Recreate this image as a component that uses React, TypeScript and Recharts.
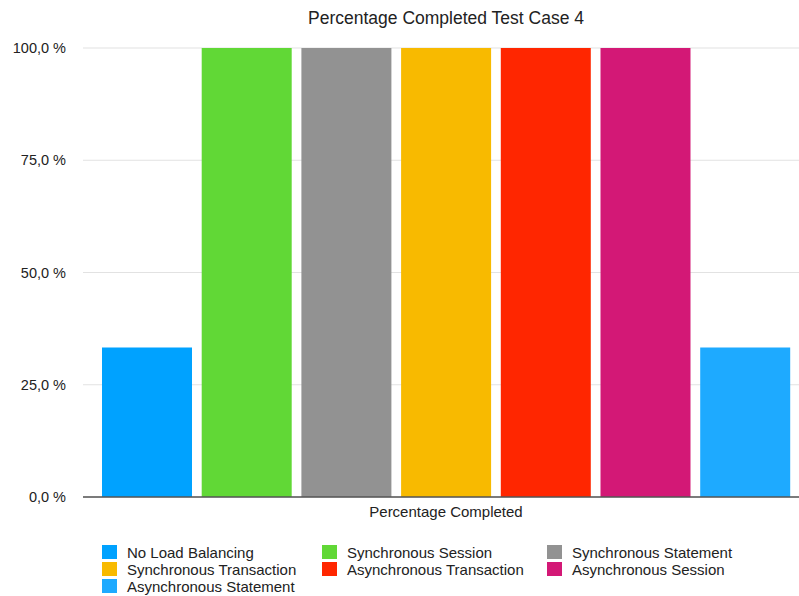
import React from "react";
import {
  BarChart,
  Bar,
  XAxis,
  YAxis,
  CartesianGrid,
  Legend,
} from "recharts";

// single category, one bar per load balancing strategy
const category = "Percentage Completed";
const seriesKeys = [
  "noLoadBalancing",
  "syncSession",
  "syncStatement",
  "syncTransaction",
  "asyncTransaction",
  "asyncSession",
  "asyncStatement",
];
const seriesNames = [
  "No Load Balancing",
  "Synchronous Session",
  "Synchronous Statement",
  "Synchronous Transaction",
  "Asynchronous Transaction",
  "Asynchronous Session",
  "Asynchronous Statement",
];
const seriesValues = [33.3, 100, 100, 100, 100, 100, 33.3];
const seriesColors = [
  "#00a2ff",
  "#61d836",
  "#929292",
  "#f8ba00",
  "#ff2600",
  "#d31876",
  "#1eaaff",
];
const yTicks = [0, 25, 50, 75, 100];

const row: Record<string, string | number> = { name: category };
seriesKeys.forEach((k, i) => {
  row[k] = seriesValues[i];
});
const data = [row];

const font = "'Liberation Sans', Arial, Helvetica, sans-serif";

const fmtPct = (v: number) => `${v.toFixed(1).replace(".", ",")} %`;

// legend laid out row-wise in three columns, in series order
function LegendGrid() {
  return (
    <div
      style={{
        display: "grid",
        gridTemplateColumns: "220px 225px 200px",
        rowGap: 3,
        fontFamily: font,
        fontSize: 15,
        color: "#222",
      }}
    >
      {seriesNames.map((name, i) => (
        <div
          key={name}
          style={{
            display: "flex",
            alignItems: "center",
            height: 14,
            whiteSpace: "nowrap",
          }}
        >
          <span
            style={{
              width: 15,
              height: 14,
              background: seriesColors[i],
              marginRight: 10,
              display: "inline-block",
              flexShrink: 0,
            }}
          />
          <span>{name}</span>
        </div>
      ))}
    </div>
  );
}

export default function App() {
  return (
    <div
      style={{
        position: "absolute",
        left: 0,
        top: 0,
        width: 799,
        height: 596,
        background: "#fff",
      }}
    >
      <div
        style={{
          position: "absolute",
          top: 8,
          left: 0,
          width: 892,
          textAlign: "center",
          fontFamily: font,
          fontSize: 17.5,
          color: "#222",
        }}
      >
        Percentage Completed Test Case 4
      </div>
      <BarChart
        width={799}
        height={596}
        data={data}
        margin={{ top: 48, right: 0, bottom: 69, left: 0 }}
        barCategoryGap={9}
        barGap={9.7}
      >
        <CartesianGrid vertical={false} stroke="#e2e2e2" strokeWidth={1.2} />
        <XAxis
          dataKey="name"
          height={30}
          padding={{ left: 10, right: 0 }}
          tickLine={false}
          tickMargin={3}
          axisLine={{ stroke: "#555", strokeWidth: 1.5 }}
          tick={{ fontSize: 15, fill: "#222", fontFamily: font }}
        />
        <YAxis
          width={83}
          domain={[0, 100]}
          ticks={yTicks}
          tickFormatter={fmtPct}
          axisLine={false}
          tickLine={false}
          tickMargin={11}
          tick={{ fontSize: 14.5, fill: "#222", fontFamily: font }}
        />
        <Legend
          layout="horizontal"
          verticalAlign="middle"
          align="center"
          wrapperStyle={{ top: 545, left: 102, width: 660 }}
          content={<LegendGrid />}
        />
        {seriesKeys.map((k, i) => (
          <Bar
            key={k}
            dataKey={k}
            name={seriesNames[i]}
            fill={seriesColors[i]}
            isAnimationActive={false}
          />
        ))}
      </BarChart>
    </div>
  );
}
